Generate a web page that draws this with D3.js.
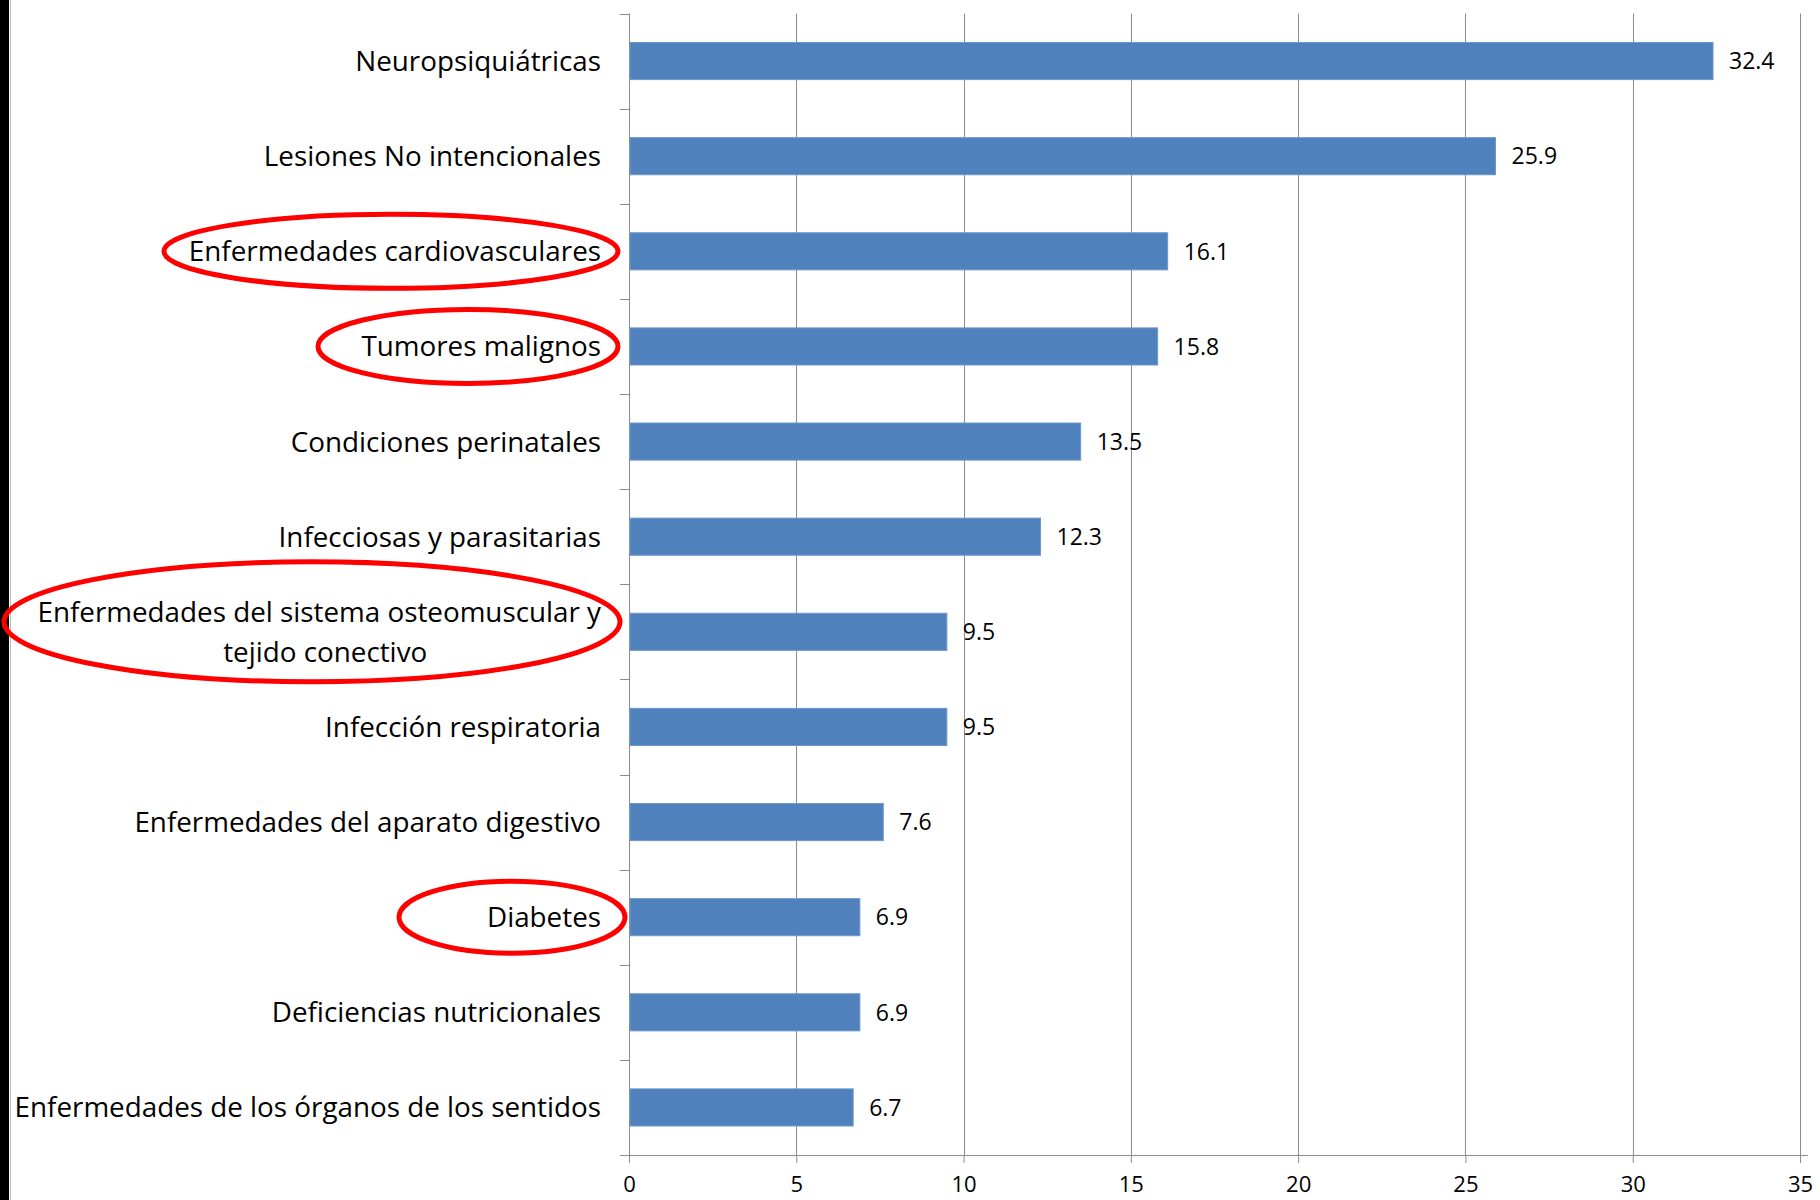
<!DOCTYPE html>
<html>
<head>
<meta charset="utf-8">
<script src="https://cdn.jsdelivr.net/npm/d3@7"></script>
<style>
  html, body { margin: 0; padding: 0; background: #fff; }
  svg { display: block; font-family: "Open Sans", "Noto Sans", sans-serif; }
</style>
</head>
<body>
<svg id="chart" width="1820" height="1200"></svg>
<script>
// Categories (top to bottom); multi-line labels are split with "\n"
const categories = [
  "Neuropsiquiátricas",
  "Lesiones No intencionales",
  "Enfermedades cardiovasculares",
  "Tumores malignos",
  "Condiciones perinatales",
  "Infecciosas y parasitarias",
  "Enfermedades del sistema osteomuscular y\ntejido conectivo",
  "Infección respiratoria",
  "Enfermedades del aparato digestivo",
  "Diabetes",
  "Deficiencias nutricionales",
  "Enfermedades de los órganos de los sentidos"
];
const values = [32.4, 25.9, 16.1, 15.8, 13.5, 12.3, 9.5, 9.5, 7.6, 6.9, 6.9, 6.7];
const xTicks = [0, 5, 10, 15, 20, 25, 30, 35];
// Categories circled in red
const highlighted = [
  "Enfermedades cardiovasculares",
  "Tumores malignos",
  "Enfermedades del sistema osteomuscular y\ntejido conectivo",
  "Diabetes"
];

const svg = d3.select("#chart");
const W = 1820, H = 1200;
const margin = { left: 629, top: 13.5 };
const plotRight = 1800, plotBottom = 1155;
const gridColor = "#8c8c8c";
const catFont = 27.8, valFont = 23, tickFont = 22;

const x = d3.scaleLinear().domain([0, 35]).range([margin.left, plotRight]);
const y = d3.scaleBand().domain(categories).range([margin.top, plotBottom]).paddingInner(0.61).paddingOuter(0.305);
const yEdges = d3.scaleLinear().domain([0, categories.length]).range([margin.top, plotBottom]);

// Dark frame strip on the left edge
svg.append("rect").attr("x", 0).attr("y", 0).attr("width", 9).attr("height", H).attr("fill", "#000");
svg.append("line").attr("x1", 10.5).attr("x2", 10.5).attr("y1", 0).attr("y2", H).attr("stroke", "#bbb").attr("stroke-width", 1);

// Vertical gridlines
svg.append("g").selectAll("line").data(xTicks.filter(d => d > 0)).join("line")
  .attr("x1", d => Math.round(x(d)) + 0.5).attr("x2", d => Math.round(x(d)) + 0.5)
  .attr("y1", margin.top).attr("y2", plotBottom)
  .attr("stroke", gridColor).attr("stroke-width", 1);

// Bottom value axis
const xAxis = d3.axisBottom(x).tickValues(xTicks).tickSize(8).tickPadding(13).tickFormat(d3.format("d"));
const gx = svg.append("g").attr("transform", `translate(0,${plotBottom})`).call(xAxis);
gx.select(".domain").attr("stroke", gridColor).attr("d", `M${margin.left - 9},0.5H${plotRight + 8}`);
gx.selectAll(".tick line").attr("stroke", gridColor);
gx.selectAll(".tick text").attr("font-size", tickFont).attr("fill", "#000").attr("font-family", "'Open Sans', sans-serif");

// Left category axis line and boundary ticks
svg.append("line").attr("x1", margin.left + 0.5).attr("x2", margin.left + 0.5)
  .attr("y1", margin.top).attr("y2", plotBottom).attr("stroke", gridColor);
svg.append("g").selectAll("line").data(d3.range(categories.length + 1)).join("line")
  .attr("x1", margin.left - 9).attr("x2", margin.left)
  .attr("y1", d => Math.round(yEdges(d)) + 0.5).attr("y2", d => Math.round(yEdges(d)) + 0.5)
  .attr("stroke", gridColor);

// Bars
svg.append("g").selectAll("rect").data(values).join("rect")
  .attr("x", x(0) + 1)
  .attr("y", (d, i) => y(categories[i]))
  .attr("width", d => x(d) - x(0) - 1)
  .attr("height", y.bandwidth())
  .attr("fill", "#4F81BD")
  .attr("stroke", "#6c97cc").attr("stroke-width", 1);

// Value labels
svg.append("g").selectAll("text").data(values).join("text")
  .attr("x", d => x(d) + 16)
  .attr("y", (d, i) => y(categories[i]) + y.bandwidth() / 2)
  .attr("dy", "0.36em")
  .attr("font-size", valFont).attr("fill", "#000")
  .text(d => d.toFixed(1));

// Category labels
const labelRight = margin.left - 28;
const lg = svg.append("g");
categories.forEach((c, i) => {
  const cy = y(c) + y.bandwidth() / 2;
  const lines = c.split("\n");
  if (lines.length === 1) {
    lg.append("text").attr("x", labelRight).attr("y", cy).attr("dy", "0.36em")
      .attr("text-anchor", "end").attr("font-size", catFont).attr("fill", "#000").text(c);
  } else {
    const t1 = lg.append("text").attr("x", labelRight).attr("y", cy - 20).attr("dy", "0.36em")
      .attr("text-anchor", "end").attr("font-size", catFont).attr("fill", "#000").text(lines[0]);
    const w1 = t1.node().getComputedTextLength();
    lg.append("text").attr("x", labelRight - w1 / 2 + 6).attr("y", cy + 20).attr("dy", "0.36em")
      .attr("text-anchor", "middle").attr("font-size", catFont).attr("fill", "#000").text(lines[1]);
  }
});

// Red ellipses around highlighted categories
const ellipseShape = {
  "Enfermedades cardiovasculares": { cx: 391, rx: 227, ry: 37, dy: 0 },
  "Tumores malignos": { cx: 468, rx: 150, ry: 37, dy: 0 },
  "Enfermedades del sistema osteomuscular y\ntejido conectivo": { cx: 312, rx: 308, ry: 60, dy: -10 },
  "Diabetes": { cx: 512, rx: 113, ry: 36, dy: 0 }
};
svg.append("g").selectAll("ellipse").data(highlighted).join("ellipse")
  .attr("cx", d => ellipseShape[d].cx)
  .attr("cy", d => y(d) + y.bandwidth() / 2 + ellipseShape[d].dy)
  .attr("rx", d => ellipseShape[d].rx)
  .attr("ry", d => ellipseShape[d].ry)
  .attr("fill", "none").attr("stroke", "#ff0000").attr("stroke-width", 5);
</script>
</body>
</html>
